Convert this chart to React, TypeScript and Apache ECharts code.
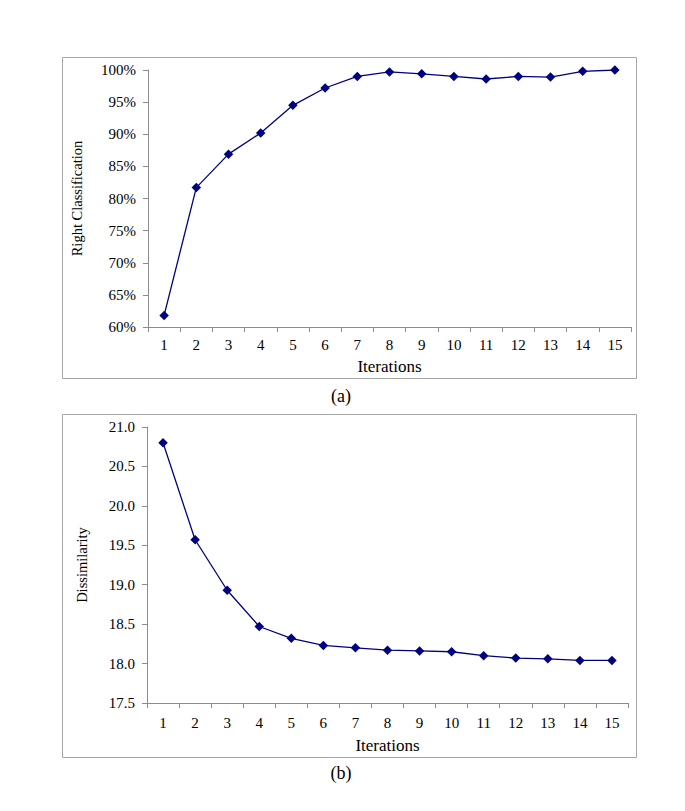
import React, { useEffect, useRef } from "react";
import * as echarts from "echarts";

const iterations = ["1", "2", "3", "4", "5", "6", "7", "8", "9", "10", "11", "12", "13", "14", "15"];
const rightClassification = [61.8, 81.7, 86.9, 90.2, 94.5, 97.2, 99.0, 99.7, 99.4, 99.0, 98.6, 99.0, 98.9, 99.8, 100.0];
const dissimilarity = [20.8, 19.57, 18.93, 18.47, 18.32, 18.23, 18.2, 18.17, 18.16, 18.15, 18.1, 18.07, 18.06, 18.04, 18.04];

const FONT = "Liberation Serif";
const LINE = "#000080";
const AXIS = "#8c8c8c";

export default function App() {
  const ref = useRef<HTMLDivElement>(null);
  useEffect(() => {
    if (!ref.current) return;
    const chart = echarts.init(ref.current, undefined, { renderer: "svg" });
    const xAxisBase = (gridIndex: number, gap: number, margin: number) => ({
      type: "category",
      gridIndex,
      data: iterations,
      boundaryGap: true,
      name: "Iterations",
      nameLocation: "middle",
      nameGap: gap,
      nameTextStyle: { fontFamily: FONT, fontSize: 17, color: "#000" },
      axisLine: { lineStyle: { color: AXIS, width: 1 } },
      axisTick: { show: true, alignWithLabel: false, length: 5, lineStyle: { color: AXIS } },
      axisLabel: { fontFamily: FONT, fontSize: 15, color: "#000", margin, interval: 0 },
      splitLine: { show: false },
    });
    chart.setOption({
      animation: false,
      backgroundColor: "#fff",
      grid: [
        { left: 148, top: 70, width: 483, height: 257 },
        { left: 147, top: 427, width: 481, height: 276 },
      ],
      xAxis: [xAxisBase(0, 31, 10), xAxisBase(1, 34, 12)],
      yAxis: [
        {
          type: "value",
          gridIndex: 0,
          min: 60,
          max: 100,
          interval: 5,
          name: "Right Classification",
          nameLocation: "middle",
          nameGap: 64,
          nameTextStyle: { fontFamily: FONT, fontSize: 14.5, color: "#000" },
          axisLine: { show: true, lineStyle: { color: AXIS } },
          axisTick: { show: true, length: 5, lineStyle: { color: AXIS } },
          axisLabel: { fontFamily: FONT, fontSize: 15, color: "#000", margin: 12, formatter: "{value}%" },
          splitLine: { show: false },
        },
        {
          type: "value",
          gridIndex: 1,
          min: 17.5,
          max: 21,
          interval: 0.5,
          name: "Dissimilarity",
          nameLocation: "middle",
          nameGap: 58,
          nameTextStyle: { fontFamily: FONT, fontSize: 14.5, color: "#000" },
          axisLine: { show: true, lineStyle: { color: AXIS } },
          axisTick: { show: true, length: 5, lineStyle: { color: AXIS } },
          axisLabel: {
            fontFamily: FONT,
            fontSize: 15,
            color: "#000",
            margin: 12,
            formatter: (v: number) => v.toFixed(1),
          },
          splitLine: { show: false },
        },
      ],
      series: [
        {
          type: "line",
          xAxisIndex: 0,
          yAxisIndex: 0,
          data: rightClassification,
          symbol: "diamond",
          symbolSize: 9.5,
          lineStyle: { color: LINE, width: 1.3 },
          itemStyle: { color: LINE },
        },
        {
          type: "line",
          xAxisIndex: 1,
          yAxisIndex: 1,
          data: dissimilarity,
          symbol: "diamond",
          symbolSize: 9.5,
          lineStyle: { color: LINE, width: 1.3 },
          itemStyle: { color: LINE },
        },
      ],
      graphic: [
        { type: "rect", shape: { x: 62.5, y: 57.5, width: 574, height: 321 }, style: { fill: "none", stroke: "#a6a6a6", lineWidth: 1 }, z: -1 },
        { type: "rect", shape: { x: 62.5, y: 414.5, width: 574, height: 343 }, style: { fill: "none", stroke: "#a6a6a6", lineWidth: 1 }, z: -1 },
        { type: "text", x: 341, y: 396, style: { text: "(a)", font: `18px "${FONT}"`, fill: "#000", align: "center", verticalAlign: "middle" } },
        { type: "text", x: 341, y: 773, style: { text: "(b)", font: `18px "${FONT}"`, fill: "#000", align: "center", verticalAlign: "middle" } },
      ],
    });
    return () => chart.dispose();
  }, []);
  return (
    <div
      ref={ref}
      style={{ position: "fixed", left: 0, top: 0, width: 685, height: 811, background: "#fff" }}
    />
  );
}
